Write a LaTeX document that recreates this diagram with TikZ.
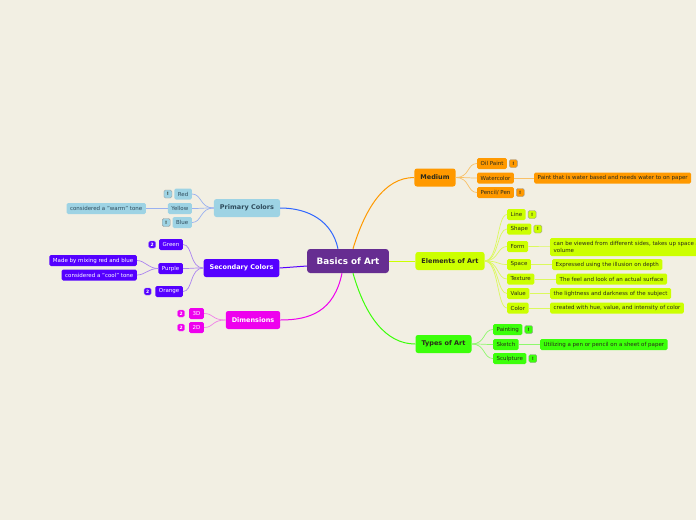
\documentclass[tikz,border=0pt]{standalone}
\usepackage{fontspec}
\setmainfont{DejaVu Sans}
\usetikzlibrary{positioning}
\definecolor{bgc}{HTML}{F2EFE3}
\definecolor{rootc}{HTML}{662D91}
\definecolor{medc}{HTML}{FF9900}
\definecolor{elemc}{HTML}{CCFF00}
\definecolor{typec}{HTML}{3CFF0A}
\definecolor{primc}{HTML}{9ED3E4}
\definecolor{primtxt}{HTML}{2E4B5C}
\definecolor{primline}{HTML}{2F66FF}
\definecolor{secc}{HTML}{5500FF}
\definecolor{dimc}{HTML}{EE00EE}
\definecolor{darktxt}{HTML}{2A2A1A}
\tikzset{
  root/.style={fill=rootc, rounded corners=3pt, text=white, minimum height=24,
               inner xsep=9.5pt, font=\fontsize{8.8}{10}\selectfont\bfseries},
  topic/.style={fill=#1, rounded corners=2.5pt, minimum height=18, inner xsep=6pt,
                text=darktxt, font=\fontsize{6.5}{8}\selectfont\bfseries},
  wtopic/.style={topic=#1, text=white},
  leaf/.style={fill=#1, rounded corners=1.5pt, minimum height=11, inner xsep=3.5pt,
               inner ysep=1pt, text=darktxt, font=\fontsize{5.5}{6.3}\selectfont},
  wleaf/.style={leaf=#1, text=white},
  badge/.style={fill=#1, draw=gray!80, rounded corners=1.5pt, minimum width=8,
                minimum height=8, inner sep=0pt, text=darktxt,
                font=\fontsize{4.5}{5}\selectfont\bfseries},
  nbadge/.style={badge=#1, draw=#1!60!white, minimum width=7, minimum height=7, text=white},
  mainlink/.style={draw=#1, line width=1pt},
  sublink/.style={draw=#1, line width=0.7pt},
}
\begin{document}
\begin{tikzpicture}[x=1pt, y=-1pt]
\useasboundingbox[fill=bgc] (0,0) rectangle (696,520);

% ROOT
\node[root] (art) at (348,261) {Basics of Art};

% MEDIUM
\node[topic=medc] (medium) at (435,177.5) {Medium};
\node[leaf=medc, anchor=west] (oil) at (477,163.5) {Oil Paint};
\node[badge=medc, right=2pt of oil] (oilb) {!};
\node[leaf=medc, anchor=west] (water) at (477,178) {Watercolor};
\node[leaf=medc, anchor=west] (waterd) at (534,178) {Paint that is water based and needs water to on paper};
\node[leaf=medc, anchor=west] (pencil) at (477,192.5) {Pencil/ Pen};
\node[badge=medc, right=2pt of pencil] (pencilb) {!};

% ELEMENTS OF ART
\node[topic=elemc] (elements) at (450,261) {Elements of Art};
\node[leaf=elemc, anchor=west] (line) at (507,214.5) {Line};
\node[badge=elemc, right=2pt of line] (lineb) {!};
\node[leaf=elemc, anchor=west] (shape) at (507,229) {Shape};
\node[badge=elemc, right=2pt of shape] (shapeb) {!};
\node[leaf=elemc, anchor=west] (form) at (507,246.5) {Form};
\node[leaf=elemc, anchor=west, align=left, minimum height=18] (formd) at (550,247) {can be viewed from different sides, takes up space and\\volume};
\node[leaf=elemc, anchor=west] (space) at (507,264.5) {Space};
\node[leaf=elemc, anchor=west] (spaced) at (552,264.5) {Expressed using the illusion on depth};
\node[leaf=elemc, anchor=west] (texture) at (507,279) {Texture};
\node[leaf=elemc, anchor=west] (textured) at (556,279) {The feel and look of an actual surface};
\node[leaf=elemc, anchor=west] (value) at (507,293.5) {Value};
\node[leaf=elemc, anchor=west] (valued) at (550,293.5) {the lightness and darkness of the subject};
\node[leaf=elemc, anchor=west] (color) at (507,308) {Color};
\node[leaf=elemc, anchor=west] (colord) at (550,308) {created with hue, value, and intensity of color};

% TYPES OF ART
\node[topic=typec] (types) at (443.5,344) {Types of Art};
\node[leaf=typec, anchor=west] (painting) at (493,329.5) {Painting};
\node[badge=typec, right=2pt of painting] (paintingb) {!};
\node[leaf=typec, anchor=west] (sketch) at (493,344.5) {Sketch};
\node[leaf=typec, anchor=west] (sketchd) at (540,344.5) {Utilizing a pen or pencil on a sheet of paper};
\node[leaf=typec, anchor=west] (sculpture) at (493,358.5) {Sculpture};
\node[badge=typec, right=2pt of sculpture] (sculptureb) {!};

% PRIMARY COLORS
\node[topic=primc, text=primtxt] (primary) at (247,208) {Primary Colors};
\node[leaf=primc, text=primtxt, anchor=east] (red) at (192,194) {Red};
\node[badge=primc, left=2pt of red] (redb) {!};
\node[leaf=primc, text=primtxt, anchor=east] (yellow) at (192,208.5) {Yellow};
\node[leaf=primc, text=primtxt, anchor=east] (yellowd) at (146,208.5) {considered a "warm" tone};
\node[leaf=primc, text=primtxt, anchor=east] (blue) at (192,222.5) {Blue};
\node[badge=primc, left=2pt of blue] (blueb) {!};

% SECONDARY COLORS
\node[wtopic=secc] (secondary) at (241.5,268) {Secondary Colors};
\node[wleaf=secc, anchor=east] (green) at (183,244.5) {Green};
\node[nbadge=secc, left=3pt of green] (greenb) {2};
\node[wleaf=secc, anchor=east] (purple) at (183,268.5) {Purple};
\node[wleaf=secc, anchor=east] (purpled1) at (137,260.5) {Made by mixing red and blue};
\node[wleaf=secc, anchor=east] (purpled2) at (137,275) {considered a "cool" tone};
\node[wleaf=secc, anchor=east] (orange) at (183,291.5) {Orange};
\node[nbadge=secc, left=4pt of orange] (orangeb) {2};

% DIMENSIONS
\node[wtopic=dimc] (dim) at (253,320) {Dimensions};
\node[wleaf=dimc, anchor=east] (threed) at (204,313.5) {3D};
\node[nbadge=dimc, left=4pt of threed] (threedb) {2};
\node[wleaf=dimc, anchor=east] (twod) at (204,327.5) {2D};
\node[nbadge=dimc, left=4pt of twod] (twodb) {2};

% Links from root
\draw[mainlink=primline] ([xshift=-10pt]art.north) .. controls +(-6,-28) and +(28,0) .. (primary.east);
\draw[mainlink=medc] ([xshift=5pt]art.north) .. controls +(12,-40) and +(-30,0) .. (medium.west);
\draw[mainlink=elemc] (art.east) -- (elements.west);
\draw[mainlink=typec] ([xshift=5pt]art.south) .. controls +(12,42) and +(-30,0) .. (types.west);
\draw[mainlink=secc] ([yshift=-5pt]art.west) -- (secondary.east);
\draw[mainlink=dimc] ([xshift=-6pt]art.south) .. controls +(-8,38) and +(30,0) .. (dim.east);

% Links to leaves
\foreach \c in {oil,water,pencil}
  \draw[sublink=medc!55!bgc] (medium.east) .. controls +(14,0) and +(-10,0) .. (\c.west);
\draw[sublink=medc!55!bgc] (water) -- (waterd);
\foreach \c in {line,shape,form,space,texture,value,color}
  \draw[sublink=elemc!60!bgc] (elements.east) .. controls +(14,0) and +(-10,0) .. (\c.west);
\foreach \a/\b in {form/formd,space/spaced,texture/textured,value/valued,color/colord}
  \draw[sublink=elemc!60!bgc] (\a) -- (\b);
\foreach \c in {painting,sketch,sculpture}
  \draw[sublink=typec!55!bgc] (types.east) .. controls +(14,0) and +(-10,0) .. (\c.west);
\draw[sublink=typec!55!bgc] (sketch) -- (sketchd);
\foreach \c in {red,yellow,blue}
  \draw[sublink=primline!45!bgc] (primary.west) .. controls +(-14,0) and +(10,0) .. (\c.east);
\draw[sublink=primline!45!bgc] (yellow) -- (yellowd);
\foreach \c in {green,purple,orange}
  \draw[sublink=secc!45!bgc] (secondary.west) .. controls +(-14,0) and +(10,0) .. (\c.east);
\foreach \c in {purpled1,purpled2}
  \draw[sublink=secc!45!bgc] (purple.west) .. controls +(-10,0) and +(8,0) .. (\c.east);
\foreach \c in {threed,twod}
  \draw[sublink=dimc!45!bgc] (dim.west) .. controls +(-14,0) and +(10,0) .. (\c.east);

\end{tikzpicture}
\end{document}
